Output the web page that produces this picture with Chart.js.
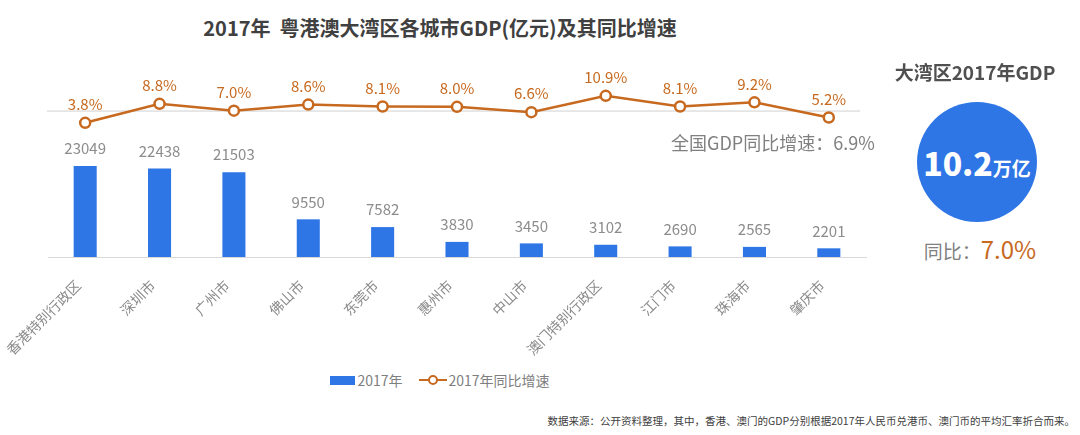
<!DOCTYPE html>
<html>
<head>
<meta charset="utf-8">
<script src="https://cdn.jsdelivr.net/npm/chart.js@4/dist/chart.umd.min.js"></script>
<style>
  body { margin: 0; width: 1080px; height: 435px; background: #fff; position: relative; overflow: hidden;
         font-family: "Noto Sans CJK SC", "Noto Sans", sans-serif; }
  #title { position: absolute; left: 0; width: 880px; top: 13px; text-align: center; font-size: 20px; font-weight: bold; color: #404040; }
  #wrap { position: absolute; left: 0; top: 0; width: 880px; height: 357px; }
  #legend { position: absolute; left: 0; width: 880px; top: 368px; text-align: center; font-size: 14px; color: #7f7f7f; }
  #legend span { display: inline-block; vertical-align: middle; }
  .box { width: 25px; height: 9px; background: #2e75e6; margin-right: 2px; }
  .ln { width: 28px; height: 12px; position: relative; margin: 0 2px 0 16px; }
  .ln:before { content: ''; position: absolute; left: 0; right: 0; top: 5px; height: 2px; background: #c7691e; }
  .ln:after { content: ''; position: absolute; left: 9px; top: 1px; width: 6px; height: 6px; border: 2px solid #c7691e; border-radius: 50%; background: #fff; }
  #nat { position: absolute; left: 671px; top: 129px; font-size: 18px; color: #808080; }
  #panelTitle { position: absolute; left: 875px; width: 200px; top: 58px; text-align: center; font-size: 19px; font-weight: bold; color: #505050; }
  #circle { position: absolute; left: 917px; top: 102px; width: 120px; height: 120px; border-radius: 50%; background: #2e75e6;
            color: #fff; text-align: center; line-height: 120px; font-weight: bold; }
  #circle b { font-size: 32px; } #circle small { font-size: 19px; }
  #yoy { position: absolute; left: 880px; width: 200px; top: 231px; text-align: center; font-size: 19px; color: #808080; }
  #yoy em { font-style: normal; font-size: 24px; color: #c7691e; }
  #src { position: absolute; right: 5px; top: 413px; font-size: 10.5px; color: #404040; }
</style>
</head>
<body>
<div id="title">2017年&nbsp;&nbsp;粤港澳大湾区各城市GDP(亿元)及其同比增速</div>
<div id="wrap"><canvas id="chart"></canvas></div>
<div id="legend"></div>
<div id="nat">全国GDP同比增速：6.9%</div>
<div id="panelTitle">大湾区2017年GDP</div>
<div id="circle"><b>10.2</b><small>万亿</small></div>
<div id="yoy">同比：<em>7.0%</em></div>
<div id="src">数据来源：公开资料整理，其中，香港、澳门的GDP分别根据2017年人民币兑港币、澳门币的平均汇率折合而来。</div>

<script>
// Data
const cities = ['香港特别行政区', '深圳市', '广州市', '佛山市', '东莞市', '惠州市', '中山市', '澳门特别行政区', '江门市', '珠海市', '肇庆市']
const gdp2017 = [23049, 22438, 21503, 9550, 7582, 3830, 3450, 3102, 2690, 2565, 2201]
const growth2017 = [3.8, 8.8, 7.0, 8.6, 8.1, 8.0, 6.6, 10.9, 8.1, 9.2, 5.2]
const nationalGrowth = 6.9
const seriesNames = ['2017年', '2017年同比增速']

const blue = '#2e75e6'
const orange = '#c7691e'

// Value labels + national reference line
const labelsPlugin = {
    id: 'labels',
    beforeDatasetsDraw(chart) {
        const { ctx, chartArea } = chart
        const y = chart.scales.y1.getPixelForValue(nationalGrowth)
        ctx.save()
        ctx.strokeStyle = '#d0d0d0'
        ctx.lineWidth = 1
        ctx.beginPath()
        ctx.moveTo(chartArea.left - 1, y)
        ctx.lineTo(chartArea.right - 6, y)
        ctx.stroke()
        ctx.restore()
    },
    afterDatasetsDraw(chart) {
        const { ctx } = chart
        ctx.save()
        ctx.textAlign = 'center'
        ctx.textBaseline = 'bottom'
        const bars = chart.getDatasetMeta(0).data
        ctx.font = '15px "Noto Sans CJK SC"'
        ctx.fillStyle = '#8c8c8c'
        bars.forEach((el, i) => ctx.fillText(gdp2017[i], el.x, el.y - 10))
        const pts = chart.getDatasetMeta(1).data
        ctx.fillStyle = orange
        pts.forEach((el, i) => ctx.fillText(growth2017[i].toFixed(1) + '%', el.x, el.y - 11))
        ctx.restore()
    }
}

const chart = new Chart(document.getElementById('chart'), {
    data: {
        labels: cities,
        datasets: [{
            type: 'bar',
            label: seriesNames[0],
            data: gdp2017,
            backgroundColor: blue,
            yAxisID: 'y',
            barPercentage: 0.62,
            categoryPercentage: 0.5,
            order: 2
        }, {
            type: 'line',
            label: seriesNames[1],
            data: growth2017,
            borderColor: orange,
            borderWidth: 2.5,
            pointRadius: 5,
            pointBorderWidth: 2.5,
            pointBackgroundColor: '#fff',
            pointBorderColor: orange,
            yAxisID: 'y1',
            order: 1
        }]
    },
    options: {
        responsive: true,
        maintainAspectRatio: false,
        animation: false,
        layout: { padding: { left: 48, right: 14, top: 70, bottom: 0 } },
        plugins: {
            legend: { display: false },
            tooltip: { enabled: false }
        },
        scales: {
            x: {
                grid: { display: false },
                border: { display: true, color: '#d9d9d9' },
                ticks: {
                    color: '#8a8a8a',
                    font: { size: 14, family: '"Noto Sans CJK SC"' },
                    minRotation: 45,
                    maxRotation: 45,
                    padding: 12,
                    labelOffset: -7
                },
                afterFit(scale) { scale.height = 100 }
            },
            y: { display: false, min: 0, max: 47400 },
            y1: { display: false, min: -31.5, max: 17.7 }
        }
    },
    plugins: [labelsPlugin]
})

// Legend
const legend = document.getElementById('legend')
legend.innerHTML = `<span class="box"></span><span>${seriesNames[0]}</span><span class="ln"></span><span>${seriesNames[1]}</span>`
</script>
</body>
</html>
